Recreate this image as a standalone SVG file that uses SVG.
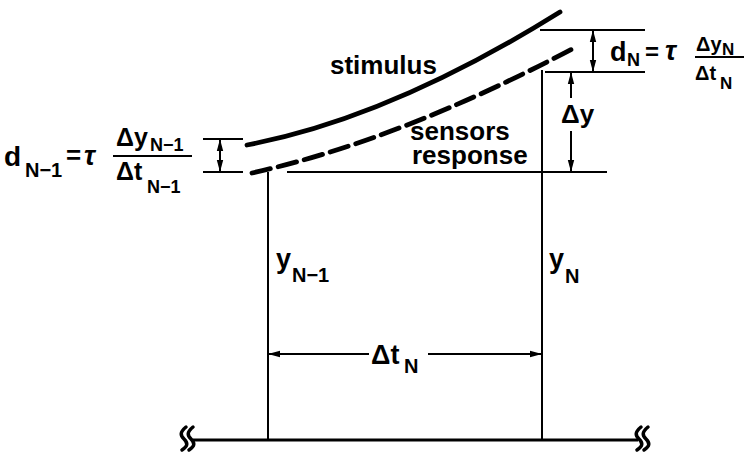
<svg xmlns="http://www.w3.org/2000/svg" width="746" height="454" viewBox="0 0 746 454">
<style>
text{font-family:"Liberation Sans",Arial,sans-serif;font-weight:bold;fill:#000}
.big{font-size:27px}
.lab{font-size:26px}
.sub{font-size:20px}
.thin{stroke:#000;stroke-width:2;fill:none}
.curve{stroke:#000;stroke-width:4.8;fill:none;stroke-linecap:round}
</style>
<defs>
<marker id="ah" markerUnits="userSpaceOnUse" markerWidth="12" markerHeight="8" refX="11" refY="4" orient="auto-start-reverse">
<path d="M0,0.8 L12,4 L0,7.2 z" fill="#000"/>
</marker>
</defs>
<rect width="746" height="454" fill="#fff"/>
<g id="curves">
<path id="stimulus-curve" class="curve" d="M247,145 Q390,118 560,12"/>
<path id="response-curve" class="curve" stroke-dasharray="19,8" d="M252,173 Q400,140 576,47"/>
</g>
<g id="connectors">
<line class="thin" x1="268" y1="172" x2="268" y2="440"/>
<line class="thin" x1="542" y1="70" x2="542" y2="440"/>
<line x1="193" y1="440" x2="638" y2="440" stroke="#000" stroke-width="3"/>
<line class="thin" x1="287" y1="172" x2="607" y2="172"/>
<line class="thin" x1="203" y1="139" x2="243" y2="139"/>
<line class="thin" x1="203" y1="172" x2="243" y2="172"/>
<line class="thin" x1="220" y1="140" x2="220" y2="171" marker-start="url(#ah)" marker-end="url(#ah)"/>
<line class="thin" x1="540" y1="30" x2="645" y2="30"/>
<line class="thin" x1="545" y1="72" x2="645" y2="72"/>
<line class="thin" x1="593" y1="31" x2="593" y2="71" marker-start="url(#ah)" marker-end="url(#ah)"/>
<line class="thin" x1="571" y1="98" x2="571" y2="73" marker-end="url(#ah)"/>
<line class="thin" x1="571" y1="131" x2="571" y2="171" marker-end="url(#ah)"/>
<line class="thin" x1="369" y1="354" x2="269" y2="354" marker-end="url(#ah)"/>
<line class="thin" x1="428" y1="354" x2="541" y2="354" marker-end="url(#ah)"/>
<g id="breaks" stroke="#000" stroke-width="3.5" fill="none" stroke-linecap="round">
<path d="M186,427 C180,432 180,435 184,439 C188,443 188,446 182,450"/>
<path d="M193,427 C187,432 187,435 191,439 C195,443 195,446 189,450"/>
<path d="M641,427 C635,432 635,435 639,439 C643,443 643,446 637,450"/>
<path d="M648,427 C642,432 642,435 646,439 C650,443 650,446 644,450"/>
</g>
</g>
<g id="label-stimulus"><text class="lab" x="330" y="74">stimulus</text></g>
<g id="label-response">
<text class="lab" x="410" y="140">sensors</text>
<text class="lab" x="412" y="164">response</text>
</g>
<g id="label-dN">
<text class="big" x="610" y="61">d</text>
<text font-size="18" x="627" y="66">N</text>
<text font-size="24" x="645" y="60">=</text>
<text font-size="27" x="665" y="60" font-style="italic">τ</text>
<line class="thin" x1="695" y1="57" x2="744" y2="57"/>
<text font-size="20" x="696" y="51">Δy</text>
<text font-size="17" x="722" y="55">N</text>
<text font-size="20" x="695" y="80">Δt</text>
<text font-size="17" x="720" y="89">N</text>
</g>
<g id="label-dN1">
<text font-size="28" x="4" y="166">d</text>
<text class="sub" x="25" y="177">N−1</text>
<text font-size="26" x="66" y="164">=</text>
<text font-size="27" x="84" y="165" font-style="italic">τ</text>
<line class="thin" x1="113" y1="156" x2="192" y2="156"/>
<text font-size="25" x="116" y="146">Δy</text>
<text font-size="18" x="150" y="151">N−1</text>
<text font-size="25" x="116" y="180">Δt</text>
<text font-size="18" x="147" y="193">N−1</text>
</g>
<g id="label-dy"><text font-size="26" x="561" y="123">Δy</text></g>
<g id="label-yN1">
<text class="big" x="276" y="268">y</text>
<text class="sub" x="292" y="282">N−1</text>
</g>
<g id="label-yN">
<text class="big" x="549" y="268">y</text>
<text class="sub" x="565" y="283">N</text>
</g>
<g id="label-dtN">
<text class="big" x="371" y="364">Δt</text>
<text class="sub" x="404" y="373">N</text>
</g>
</svg>
